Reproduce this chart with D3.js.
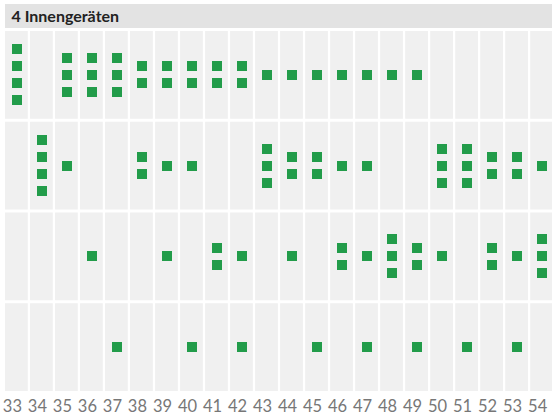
<!DOCTYPE html>
<html>
<head>
<meta charset="utf-8">
<script src="https://cdn.jsdelivr.net/npm/d3@7"></script>
<style>
  body { margin: 0; background: #fff; }
  svg { display: block; }
</style>
</head>
<body>
<div id="chart"></div>
<script>
// Kalenderwochen
var weeks = [33, 34, 35, 36, 37, 38, 39, 40, 41, 42, 43, 44, 45, 46, 47, 48, 49, 50, 51, 52, 53, 54];

// Anzahl Punkte je Woche und Zeile (von oben nach unten)
var row1 = [4, 0, 3, 3, 3, 2, 2, 2, 2, 2, 1, 1, 1, 1, 1, 1, 1, 0, 0, 0, 0, 0];
var row2 = [0, 4, 1, 0, 0, 2, 1, 1, 0, 0, 3, 2, 2, 1, 1, 0, 0, 3, 3, 2, 2, 1];
var row3 = [0, 0, 0, 1, 0, 0, 1, 0, 2, 1, 0, 1, 0, 2, 1, 3, 2, 1, 0, 2, 1, 3];
var row4 = [0, 0, 0, 0, 1, 0, 0, 1, 0, 1, 0, 0, 1, 0, 1, 0, 1, 0, 1, 0, 1, 0];

var rows = [row1, row2, row3, row4];
var title = '4 Innengeräten';

var width = 552, height = 420;
var green = '#229c4a';
var sq = 10, pitch = 17;

var svg = d3.select('#chart')
    .append('svg')
        .attr('width', width)
        .attr('height', height);

// title bar
svg.append('rect')
    .attr('x', 5).attr('y', 4)
    .attr('width', width - 5).attr('height', 24)
    .attr('fill', '#e3e3e3');

svg.append('text')
    .attr('x', 11.5)
    .attr('y', 22)
    .attr('font-family', 'Lato, sans-serif')
    .attr('font-weight', 'bold')
    .attr('font-size', 16)
    .attr('fill', '#222')
    .text(title);

var x = d3.scaleBand()
    .domain(weeks)
    .range([5, 553])
    .paddingInner(0.09)
    .paddingOuter(0);

var y = d3.scaleBand()
    .domain(d3.range(rows.length))
    .range([31, 391])
    .paddingInner(0.033)
    .paddingOuter(0);

// background cells
var cells = [];
rows.forEach(function(r, ri) {
    weeks.forEach(function(w, wi) {
        cells.push({ row: ri, week: w, n: r[wi] });
    });
});

svg.append('g')
    .selectAll('rect')
    .data(cells)
    .join('rect')
        .attr('x', function(d) { return x(d.week); })
        .attr('y', function(d) { return y(d.row); })
        .attr('width', x.bandwidth())
        .attr('height', y.bandwidth())
        .attr('fill', '#f0f0f0');

// squares, stacked around the cell centre
var dots = [];
cells.forEach(function(c) {
    for (var i = 0; i < c.n; i++) {
        dots.push({ row: c.row, week: c.week, off: (i - (c.n - 1) / 2) * pitch });
    }
});

svg.append('g')
    .selectAll('rect')
    .data(dots)
    .join('rect')
        .attr('x', function(d) { return Math.round(x(d.week) + x.bandwidth() / 2 - sq / 2 + 0.5); })
        .attr('y', function(d) { return Math.round(y(d.row) + y.bandwidth() / 2 + d.off - sq / 2); })
        .attr('width', sq)
        .attr('height', sq)
        .attr('fill', green);

// week labels
var axis = svg.append('g')
    .attr('transform', 'translate(0,391)')
    .call(d3.axisBottom(x).tickSize(0).tickPadding(9.5));

axis.select('.domain').remove();
axis.selectAll('text')
    .attr('dx', -4)
    .attr('font-family', 'Lato, sans-serif')
    .attr('font-size', 16.5)
    .attr('fill', '#777');
</script>
</body>
</html>
